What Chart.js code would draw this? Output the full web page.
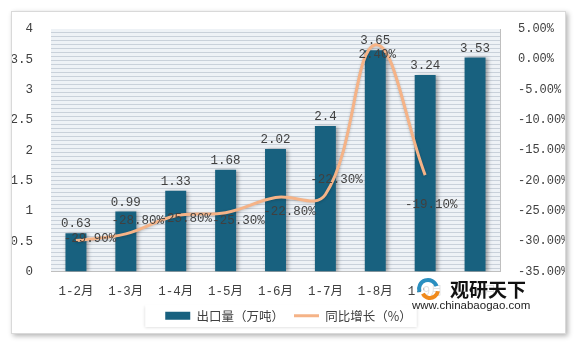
<!DOCTYPE html>
<html>
<head>
<meta charset="utf-8">
<script src="https://cdn.jsdelivr.net/npm/chart.js@4/dist/chart.umd.min.js"></script>
<style>
html, body { margin: 0; padding: 0; background: #fff; }
#wrap { position: relative; width: 580px; height: 345px; overflow: hidden; }
#card { position: absolute; left: 11px; top: 11px; width: 553px; height: 321px; background: #fff;
        border: 1px solid #d9d9d9; box-shadow: 2px 2px 5px rgba(0,0,0,0.3); }
canvas { position: absolute; left: 0; top: 0; }
</style>
</head>
<body>
<div id="wrap">
  <div id="card"></div>
  <canvas id="chart" width="580" height="345"></canvas>
</div>
<script>
// categories and series
const months = ['1-2月', '1-3月', '1-4月', '1-5月', '1-6月', '1-7月', '1-8月', '1-9月', '1-10月'];
const exportVolume = [0.63, 0.99, 1.33, 1.68, 2.02, 2.4, 3.65, 3.24, 3.53];
const growthRate = [-29.9, -28.8, -25.8, -25.3, -22.8, -22.3, 2.4, -19.1, null];
const seriesNames = ['出口量（万吨）', '同比增长（%）'];

// where each growth label sits relative to its point (dx, dy)
const growthLabelShift = [[14, -2], [12, -13], [10, 3], [13, 8], [14, 14], [11, -15], [2, 10], [6, 30], [0, 0]];

const numFont = '"Liberation Mono", "Noto Sans CJK SC", monospace';
const textColor = '#404040';
const barColor = '#18617f';
const lineColor = '#f5b387';

// striped background of the plot area
const plotBackground = {
    id: 'plotBackground',
    beforeDraw(chart) {
        const { ctx, chartArea: a } = chart;
        ctx.save();
        ctx.fillStyle = '#eef2f6';
        ctx.fillRect(a.left, a.top, a.right - a.left, a.bottom - a.top);
        ctx.strokeStyle = '#c9d1da';
        ctx.lineWidth = 1;
        ctx.beginPath();
        for (let y = a.bottom - 4; y > a.top; y -= 4) {
            ctx.moveTo(a.left, Math.round(y) + 0.5);
            ctx.lineTo(a.right, Math.round(y) + 0.5);
        }
        ctx.stroke();

        // white box behind the legend
        const boxes = chart.legend && chart.legend.legendHitBoxes;
        if (boxes && boxes.length) {
            const first = boxes[0], last = boxes[boxes.length - 1];
            ctx.shadowColor = 'rgba(0,0,0,0.15)';
            ctx.shadowBlur = 3;
            ctx.shadowOffsetY = 1;
            ctx.fillStyle = '#fff';
            ctx.fillRect(first.left - 20, first.top - 5, last.left + last.width - first.left + 25, first.height + 10);
        }
        ctx.restore();
    }
};

// soft shadow under bars and line
const shadows = {
    id: 'shadows',
    beforeDatasetDraw(chart, args) {
        const ctx = chart.ctx;
        ctx.save();
        if (args.index === 0) {
            ctx.shadowColor = 'rgba(0,0,0,0.35)';
            ctx.shadowBlur = 4;
            ctx.shadowOffsetX = 2;
            ctx.shadowOffsetY = 1;
        } else {
            ctx.shadowColor = 'rgba(0,0,0,0.2)';
            ctx.shadowBlur = 3;
            ctx.shadowOffsetY = 1;
        }
    },
    afterDatasetDraw(chart) {
        chart.ctx.restore();
    }
};

// value labels on bars and line points
const valueLabels = {
    id: 'valueLabels',
    afterDatasetsDraw(chart) {
        const ctx = chart.ctx;
        ctx.save();
        ctx.font = '12.5px ' + numFont;
        ctx.fillStyle = textColor;
        ctx.textAlign = 'center';
        ctx.textBaseline = 'bottom';
        chart.getDatasetMeta(0).data.forEach((bar, i) => {
            ctx.fillText(String(exportVolume[i]), bar.x, bar.y - 3);
        });
        ctx.textBaseline = 'middle';
        chart.getDatasetMeta(1).data.forEach((pt, i) => {
            if (growthRate[i] === null) return;
            const [dx, dy] = growthLabelShift[i];
            ctx.fillText(growthRate[i].toFixed(2) + '%', pt.x + dx, pt.y + dy);
        });
        ctx.restore();
    }
};

// site watermark in the lower right
const watermark = {
    id: 'watermark',
    afterDraw(chart) {
        const ctx = chart.ctx;
        ctx.save();
        ctx.fillStyle = 'rgba(255,255,255,0.85)';
        ctx.fillRect(424, 278, 108, 22);
        ctx.lineWidth = 4;
        ctx.strokeStyle = '#2a8fc0';
        ctx.beginPath();
        ctx.arc(428, 289, 9, Math.PI * 0.9, Math.PI * 1.9);
        ctx.stroke();
        ctx.strokeStyle = '#f08a1c';
        ctx.beginPath();
        ctx.arc(430, 290, 8, Math.PI * 0.05, Math.PI * 0.85);
        ctx.stroke();
        ctx.fillStyle = '#111';
        ctx.font = 'bold 19px "Noto Sans CJK SC"';
        ctx.textBaseline = 'middle';
        ctx.textAlign = 'left';
        ctx.fillText('观研天下', 450, 290);
        ctx.font = '11.5px "Liberation Sans", Arial';
        ctx.fillStyle = '#222';
        ctx.fillText('www.chinabaogao.com', 412, 306);
        ctx.restore();
    }
};

const ctx = document.getElementById('chart').getContext('2d');
new Chart(ctx, {
    data: {
        labels: months,
        datasets: [
            {
                type: 'bar',
                label: seriesNames[0],
                data: exportVolume,
                backgroundColor: barColor,
                borderWidth: 0,
                barPercentage: 0.42,
                categoryPercentage: 1,
                yAxisID: 'y',
                order: 1,
                pointStyle: 'rect'
            },
            {
                type: 'line',
                label: seriesNames[1],
                data: growthRate,
                borderColor: lineColor,
                backgroundColor: lineColor,
                borderWidth: 3,
                tension: 0.4,
                pointRadius: 0,
                pointStyle: 'line',
                yAxisID: 'y1',
                order: 0
            }
        ]
    },
    options: {
        responsive: false,
        animation: false,
        layout: { padding: { left: 12, right: 15, top: 29, bottom: 13 } },
        scales: {
            x: {
                grid: { display: false },
                border: { display: true, color: '#bfbfbf' },
                ticks: { color: textColor, font: { family: numFont, size: 12.5 }, padding: 5, maxRotation: 0, autoSkip: false },
                afterFit(scale) { scale.height = 28; }
            },
            y: {
                position: 'left',
                min: 0,
                max: 4,
                grid: { display: false },
                border: { display: false },
                ticks: { stepSize: 0.5, color: textColor, font: { family: numFont, size: 12.5 }, padding: 10,
                         callback: v => String(v) },
                afterFit(scale) { scale.width = 39; }
            },
            y1: {
                position: 'right',
                min: -35,
                max: 5,
                grid: { display: false },
                border: { display: true, color: '#bfbfbf' },
                ticks: {
                    stepSize: 5,
                    color: textColor,
                    font: { family: numFont, size: 12 },
                    padding: 10,
                    callback: v => v.toFixed(2) + '%'
                },
                afterFit(scale) { scale.width = 65; }
            }
        },
        plugins: {
            legend: {
                position: 'bottom',
                reverse: true,
                labels: {
                    usePointStyle: true,
                    pointStyleWidth: 25,
                    boxHeight: 8,
                    padding: 10,
                    color: textColor,
                    font: { family: '"Noto Sans CJK SC"', size: 12.5 }
                }
            },
            tooltip: { enabled: false }
        }
    },
    plugins: [plotBackground, shadows, valueLabels, watermark]
});
</script>
</body>
</html>
